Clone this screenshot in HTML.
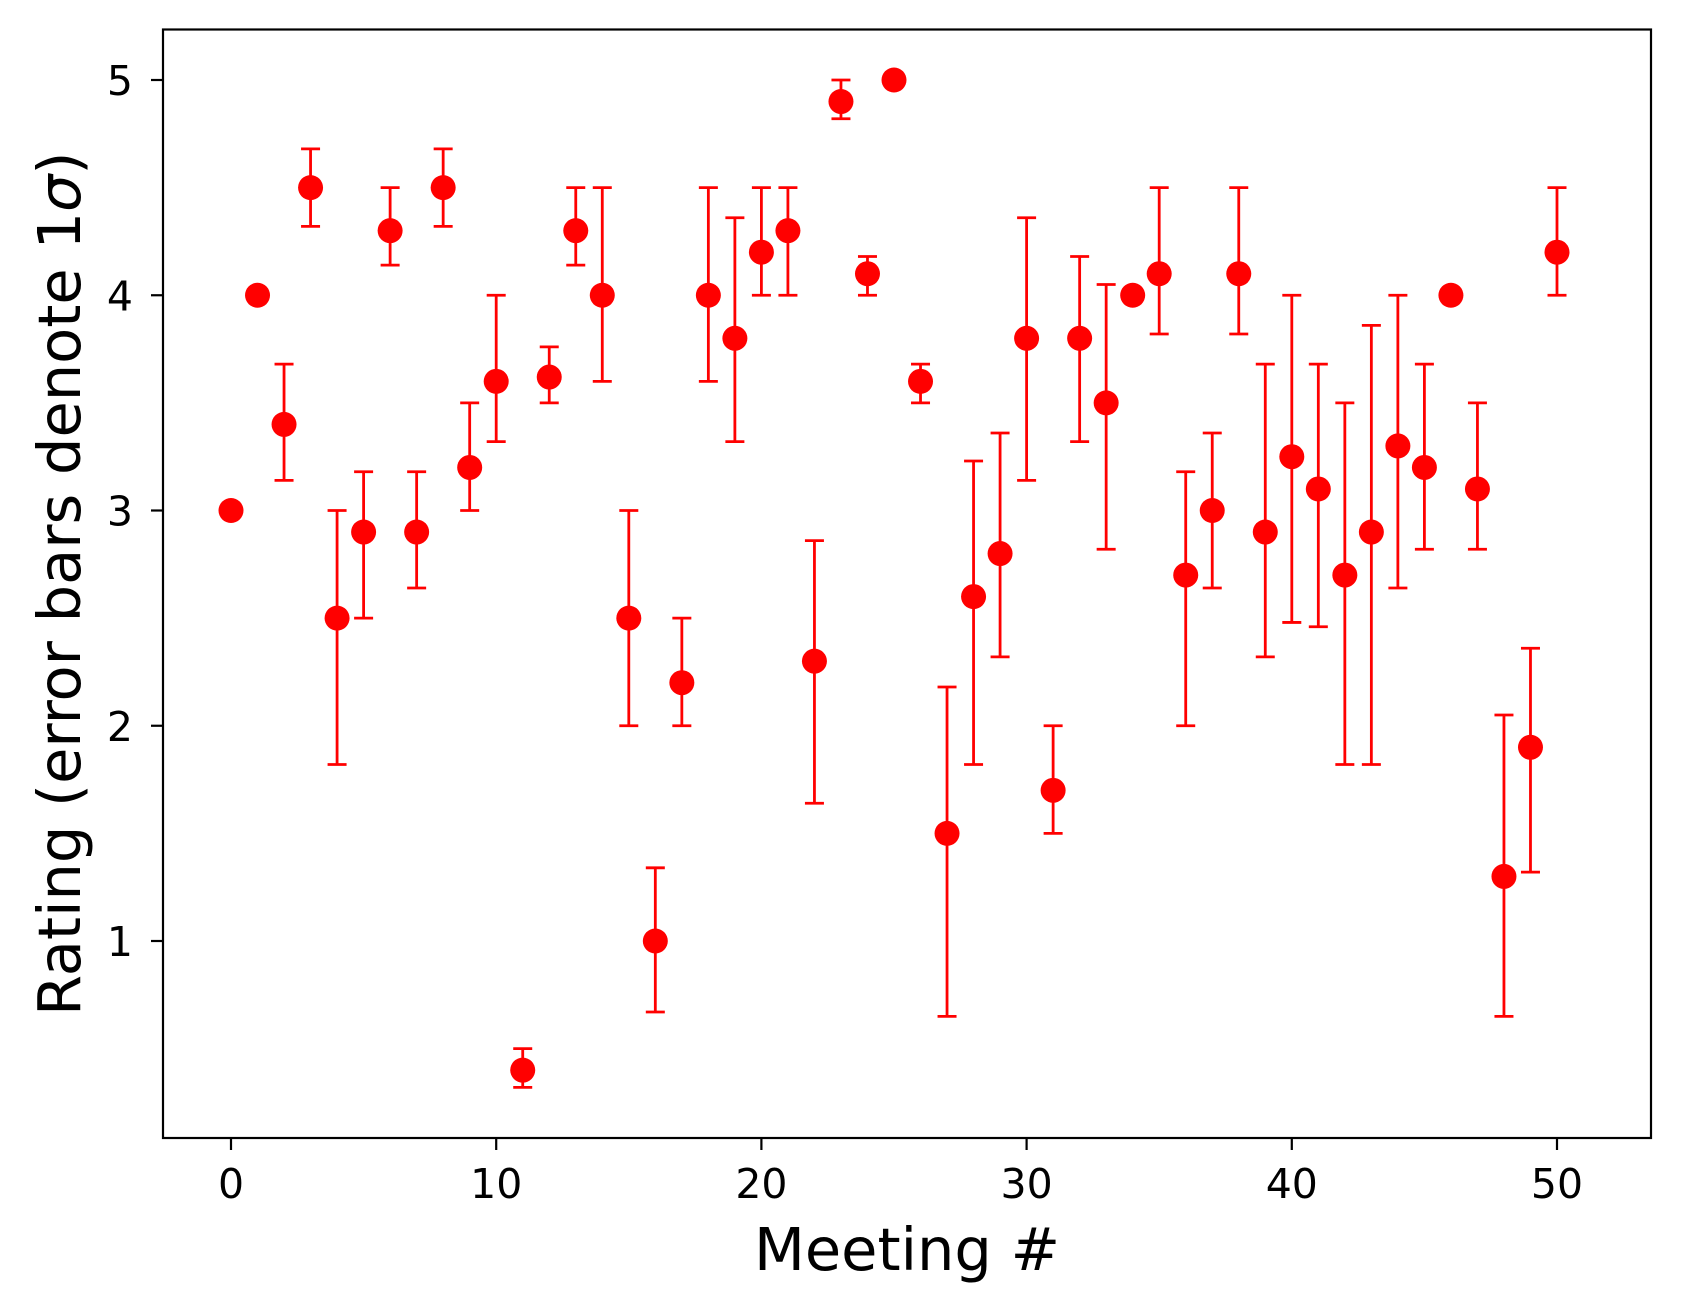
<!DOCTYPE html>
<html><head><meta charset="utf-8"><style>
html,body{margin:0;padding:0;background:#fff;}
svg text{font-family:"DejaVu Sans","Liberation Sans",sans-serif;fill:#000;}
</style></head><body>
<svg id="chart" width="1681" height="1311" viewBox="0 0 1681 1311" xmlns="http://www.w3.org/2000/svg">
<rect x="0" y="0" width="1681" height="1311" fill="#fff"/>
<g id="marks"></g>
<g id="axes"></g>
</svg>
<script>
const meetings = [0,1,2,3,4,5,6,7,8,9,10,11,12,13,14,15,16,17,18,19,20,21,22,23,24,25,26,27,28,29,30,31,32,33,34,35,36,37,38,39,40,41,42,43,44,45,46,47,48,49,50];
const ratings = [3,4,3.4,4.5,2.5,2.9,4.3,2.9,4.5,3.2,3.6,0.4,3.62,4.3,4.0,2.5,1.0,2.2,4.0,3.8,4.2,4.3,2.3,4.9,4.1,5.0,3.6,1.5,2.6,2.8,3.8,1.7,3.8,3.5,4.0,4.1,2.7,3.0,4.1,2.9,3.25,3.1,2.7,2.9,3.3,3.2,4.0,3.1,1.3,1.9,4.2];
const errLow = [3,4,3.14,4.32,1.82,2.5,4.14,2.64,4.32,3.0,3.32,0.32,3.5,4.14,3.6,2.0,0.67,2.0,3.6,3.32,4.0,4.0,1.64,4.82,4.0,5.0,3.5,0.65,1.82,2.32,3.14,1.5,3.32,2.82,4.0,3.82,2.0,2.64,3.82,2.32,2.48,2.46,1.82,1.82,2.64,2.82,4.0,2.82,0.65,1.32,4.0];
const errHigh = [3,4,3.68,4.68,3.0,3.18,4.5,3.18,4.68,3.5,4.0,0.5,3.76,4.5,4.5,3.0,1.34,2.5,4.5,4.36,4.5,4.5,2.86,5.0,4.18,5.0,3.68,2.18,3.23,3.36,4.36,2.0,4.18,4.05,4.0,4.5,3.18,3.36,4.5,3.68,4.0,3.68,3.5,3.86,4.0,3.68,4.0,3.5,2.05,2.36,4.5];
const xTicks = [0,10,20,30,40,50];
const yTicks = [1,2,3,4,5];

const NS = "http://www.w3.org/2000/svg";
const L = 163, R = 1651, T = 29.5, B = 1138;
function xs(v){ return 231 + v * (1557 - 231) / 50; }
function ys(v){ return 80 + (5 - v) * 215.25; }
function mk(tag, attrs, parent){
  const e = document.createElementNS(NS, tag);
  for (const k in attrs) e.setAttribute(k, attrs[k]);
  parent.appendChild(e);
  return e;
}
const marks = document.getElementById('marks');
const axes = document.getElementById('axes');
const red = '#ff0000';
for (let i = 0; i < meetings.length; i++) {
  const x = xs(meetings[i]);
  if (errHigh[i] !== errLow[i]) {
    const g = mk('g', {}, marks);
    
    
    mk('line', {x1:x, x2:x, y1:ys(errLow[i]), y2:ys(errHigh[i]), stroke:red, 'stroke-width':2.8}, g);
    mk('line', {x1:x-9.5, x2:x+9.5, y1:ys(errLow[i]), y2:ys(errLow[i]), stroke:red, 'stroke-width':2.8}, g);
    mk('line', {x1:x-9.5, x2:x+9.5, y1:ys(errHigh[i]), y2:ys(errHigh[i]), stroke:red, 'stroke-width':2.8}, g);
  }
  const c = mk('circle', {cx:x, cy:ys(ratings[i]), r:12.5, fill:red}, marks);
  
  
}
const frame = mk('rect', {x:L, y:T, width:R-L, height:B-T, fill:'none', stroke:'#000', 'stroke-width':2.2}, axes);


for (const t of xTicks) {
  const x = xs(t);
  mk('line', {x1:x, x2:x, y1:B, y2:B+12, stroke:'#000', 'stroke-width':2.2}, axes);
  const tx = mk('text', {x:x, y:B+60, 'font-size':41, 'text-anchor':'middle'}, axes);
  tx.textContent = t;
  
  
}
for (const t of yTicks) {
  const y = ys(t);
  mk('line', {x1:L-12, x2:L, y1:y, y2:y, stroke:'#000', 'stroke-width':2.2}, axes);
  const tx = mk('text', {x:L-30, y:y+15, 'font-size':41, 'text-anchor':'end'}, axes);
  tx.textContent = t;
  
  
}
const xl = mk('text', {x:(L+R)/2, y:1270, 'font-size':59, 'text-anchor':'middle'}, axes);
xl.textContent = 'Meeting #';


const yl = mk('text', {x:0, y:0, 'font-size':59, 'text-anchor':'middle', transform:'translate(80,'+((T+B)/2)+') rotate(-90)'}, axes);
yl.textContent = 'Rating (error bars denote 1';
const sig = mk('tspan', {'font-style':'italic'}, yl);
sig.textContent = 'σ';
const cl = mk('tspan', {}, yl);
cl.textContent = ')';


</script>
</body></html>
